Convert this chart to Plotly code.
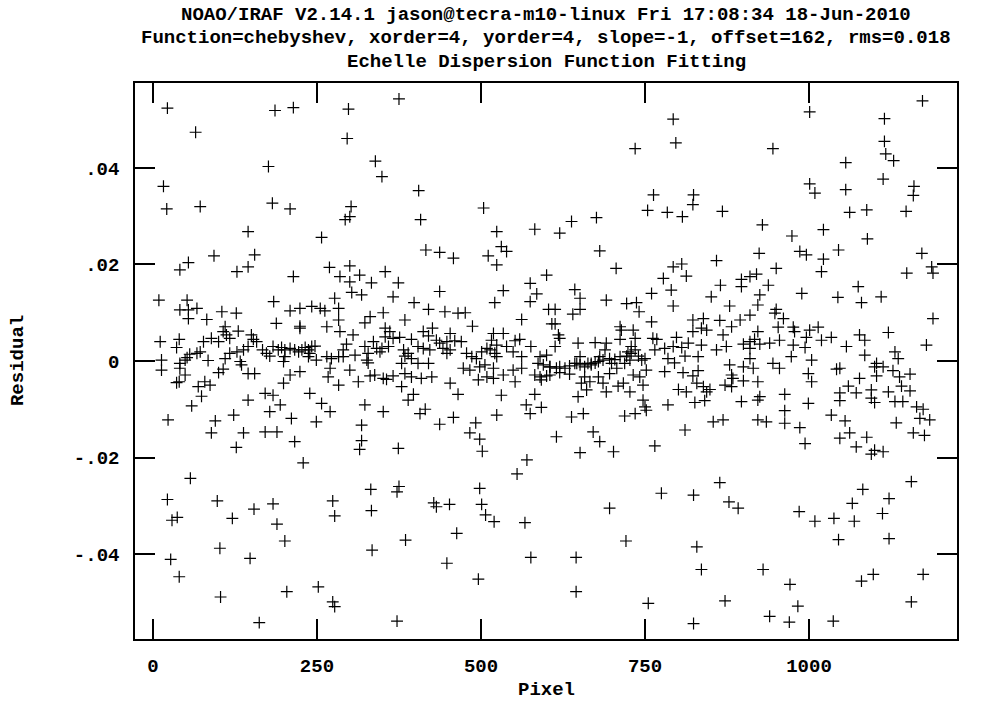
import plotly.graph_objects as go

title_lines = [
    "NOAO/IRAF V2.14.1 jason@tecra-m10-linux Fri 17:08:34 18-Jun-2010",
    "Function=chebyshev, xorder=4, yorder=4, slope=-1, offset=162, rms=0.018",
    "Echelle Dispersion Function Fitting",
]
x_title = "Pixel"
y_title = "Residual"
x_ticks = [0, 250, 500, 750, 1000]
x_tick_labels = ["0", "250", "500", "750", "1000"]
y_ticks = [0.04, 0.02, 0, -0.02, -0.04]
y_tick_labels = [".04", ".02", "0", "-.02", "-.04"]

# upper outliers
pixel_upper = [22, 186, 214, 65, 176, 16, 21, 72, 182, 209, 145, 257,
               375, 298, 296, 339, 349, 405, 302, 293, 300, 408, 504, 524, 582, 416, 437, 531, 539,
               793, 735, 797, 763, 824, 823, 754, 784, 807, 868, 676, 638, 620, 929, 681, 924,
               1173, 1001, 1115, 1115, 1117, 1129, 945, 1056, 1113, 1001, 1009, 1056, 1160, 1159,
               1062, 1088, 1148, 974, 1022, 1089, 986, 1045, 1172]
resid_upper = [0.0524, 0.0519, 0.0525, 0.0474, 0.0403, 0.0362, 0.0315, 0.0320, 0.0327, 0.0315, 0.0268, 0.0256,
               0.0543, 0.0522, 0.0461, 0.0414, 0.0382, 0.0353, 0.0320, 0.0293, 0.0299, 0.0293, 0.0317, 0.0268,
               0.0273, 0.0230, 0.0225, 0.0237, 0.0227,
               0.0501, 0.0440, 0.0452, 0.0344, 0.0344, 0.0324, 0.0312, 0.0308, 0.0299, 0.0310, 0.0297, 0.0289,
               0.0265, 0.0282, 0.0228, 0.0223,
               0.0539, 0.0516, 0.0502, 0.0455, 0.0429, 0.0415, 0.0440, 0.0411, 0.0377, 0.0367, 0.0348, 0.0355,
               0.0362, 0.0343, 0.0308, 0.0313, 0.0310, 0.0259, 0.0272, 0.0253, 0.0227, 0.0230, 0.0223]

# band, pixels 0-300
pixel_band1 = [93, 155, 54, 41, 128, 145, 214, 269, 285, 9, 52, 41, 54, 67, 54, 82, 105, 127, 184, 209,
               224, 242, 255, 262, 277, 283, 283, 188, 224, 224, 265, 285, 110, 107, 130, 112, 117, 89, 100, 77,
               11, 40, 36, 150, 153, 158, 145, 138, 128, 117, 72, 67, 56, 52, 49, 41, 84, 110, 13, 13,
               41, 49, 36, 40, 69, 79, 87, 74, 100, 107, 135, 133, 145, 155, 167, 173, 178, 183, 191, 196,
               201, 209, 216, 222, 227, 232, 237, 242, 247, 239, 201, 199, 209, 199, 224, 237, 249, 265, 272, 283,
               290, 270, 267, 283, 171, 183, 145, 239, 257, 270, 194, 178, 59, 23, 95, 123, 211, 249, 89, 138,
               171, 189, 216, 127]
resid_band1 = [0.0218, 0.0220, 0.0204, 0.0189, 0.0185, 0.0195, 0.0175, 0.0194, 0.0175, 0.0126, 0.0126, 0.0106,
               0.0106, 0.0109, 0.0088, 0.0086, 0.0102, 0.0099, 0.0123, 0.0104, 0.0109, 0.0113, 0.0109, 0.0104,
               0.0130, 0.0109, 0.0085, 0.0078, 0.0072, 0.0068, 0.0071, 0.0061, 0.0071, 0.0061, 0.0062, 0.0054,
               0.0047, 0.0047, 0.0040, 0.0040, 0.0040, 0.0045, 0.0028, 0.0054, 0.0045, 0.0040, 0.0030, 0.0023,
               0.0019, 0.0016, 0.0019, 0.0016, 0.0014, 0.0007, 0.0002, -0.0005, 0.0001, 0.0005, 0.0002, -0.0019,
               -0.0015, -0.0029, -0.0045, -0.0043, -0.0053, -0.0043, -0.0050, -0.0073, -0.0024, -0.0017, -0.0008,
               -0.0001, -0.0026, -0.0026, 0.0023, 0.0016, 0.0010, 0.0030, 0.0023, 0.0028, 0.0023, 0.0026, 0.0023,
               0.0019, 0.0023, 0.0028, 0.0023, 0.0030, 0.0031, 0.0016, 0.0009, -0.0001, -0.0029, -0.0046, -0.0022,
               0.0009, 0.0002, 0.0009, 0.0005, 0.0009, 0.0009, -0.0015, -0.0033, -0.0050, -0.0067, -0.0071,
               -0.0081, -0.0067, -0.0088, -0.0105, -0.0091, -0.0105, -0.0093, -0.0122, -0.0124, -0.0112, -0.0119,
               -0.0126, -0.0149, -0.0149, -0.0147, -0.0147, -0.0167, -0.0179]

# band, pixels 300-600
pixel_band2 = [458, 511, 524, 300, 315, 300, 354, 333, 374, 303, 318, 366, 437, 398, 420, 445, 465, 476, 351, 331,
               323, 384, 426, 487, 534, 521, 575, 585, 575, 600, 603, 562, 608, 305, 354, 361, 354, 366, 376, 394,
               412, 420, 432, 453, 448, 460, 470, 336, 295, 290, 323, 328, 341, 349, 359, 346, 308, 326, 328, 382,
               384, 389, 394, 379, 404, 412, 422, 420, 437, 442, 448, 453, 404, 300, 313, 331, 338, 351, 356, 366,
               379, 384, 394, 409, 425, 453, 465, 397, 389, 407, 415, 323, 351, 318, 318, 315, 374, 437, 458, 492,
               483, 498, 502, 524, 531, 569, 575, 592, 582, 519, 534, 552, 559, 516, 524, 539, 576, 514, 521, 549,
               562, 478, 486, 493, 501, 509, 524, 590, 600, 587, 595, 605, 473, 483, 498, 506, 519, 496, 509, 519,
               534, 549, 562, 552, 582, 590, 600, 605, 592]
resid_band2 = [0.0213, 0.0218, 0.0199, 0.0197, 0.0178, 0.0164, 0.0185, 0.0162, 0.0162, 0.0142, 0.0137, 0.0133,
               0.0144, 0.0121, 0.0107, 0.0102, 0.0099, 0.0100, 0.0100, 0.0092, 0.0079, 0.0085, 0.0068, 0.0072,
               0.0146, 0.0121, 0.0161, 0.0139, 0.0123, 0.0178, 0.0107, 0.0086, 0.0077, 0.0054, 0.0068, 0.0061,
               0.0050, 0.0047, 0.0049, 0.0045, 0.0061, 0.0052, 0.0043, 0.0057, 0.0040, 0.0042, 0.0040, 0.0040,
               0.0035, 0.0023, 0.0030, 0.0016, 0.0026, 0.0026, 0.0030, 0.0019, 0.0012, 0.0002, -0.0004, 0.0023,
               0.0010, 0.0016, 0.0005, -0.0005, 0.0030, 0.0026, 0.0023, -0.0005, 0.0037, 0.0026, 0.0016, 0.0023,
               -0.0005, -0.0019, -0.0043, -0.0031, -0.0029, -0.0036, -0.0038, -0.0031, -0.0053, -0.0026, -0.0033,
               -0.0036, -0.0033, -0.0046, -0.0069, -0.0069, -0.0081, -0.0109, -0.0100, -0.0091, -0.0105, -0.0133,
               -0.0165, -0.0183, -0.0181, -0.0131, -0.0117, -0.0128, -0.0149, -0.0162, -0.0187, -0.0112, -0.0071,
               -0.0091, -0.0109, -0.0096, -0.0069, 0.0057, 0.0057, 0.0042, 0.0045, 0.0043, 0.0033, 0.0030, 0.0030,
               0.0023, 0.0016, 0.0019, 0.0009, 0.0016, 0.0009, 0.0005, 0.0019, 0.0026, 0.0009, 0.0009, 0.0012,
               -0.0005, -0.0008, -0.0012, -0.0015, -0.0019, -0.0012, -0.0008, -0.0015, -0.0039, -0.0033, -0.0036,
               -0.0029, -0.0019, -0.0015, -0.0043, -0.0029, -0.0033, -0.0031, -0.0029, -0.0039]

# band, pixels 600-930
pixel_band3 = [706, 793, 806, 813, 778, 859, 897, 910, 920, 897, 865, 851, 790, 793, 760, 643, 651, 651, 691, 722,
               737, 741, 613, 640, 879, 925, 922, 910, 895, 864, 882, 760, 823, 839, 836, 844, 823, 613, 712, 714,
               732, 735, 729, 712, 618, 620, 613, 648, 674, 691, 689, 762, 768, 798, 816, 806, 836, 859, 869, 874,
               900, 910, 917, 922, 925, 910, 724, 735, 740, 750, 765, 780, 793, 811, 831, 785, 795, 780, 808, 823,
               831, 910, 900, 915, 879, 882, 884, 872, 882, 900, 922, 925, 922, 897, 829, 839, 849, 844, 801, 813,
               826, 841, 785, 747, 750, 752, 735, 719, 742, 747, 752, 732, 717, 709, 727, 696, 691, 686, 679, 666,
               658, 653, 661, 648, 656, 638, 615, 671, 681, 702, 651, 765, 811, 854, 869, 922,
               605, 615, 620, 628, 635, 643, 651, 658, 663, 668, 674, 679, 686, 696, 704, 712, 722, 729, 745, 620,
               635, 646, 651, 681, 699, 707, 719, 727, 668]
resid_band3 = [0.0192, 0.0195, 0.0201, 0.0176, 0.0171, 0.0208, 0.0169, 0.0175, 0.0180, 0.0154, 0.0157, 0.0133,
               0.0147, 0.0114, 0.0140, 0.0148, 0.0130, 0.0107, 0.0126, 0.0119, 0.0121, 0.0102, 0.0107, 0.0097,
               0.0114, 0.0137, 0.0116, 0.0095, 0.0085, 0.0084, 0.0071, 0.0081, 0.0085, 0.0088, 0.0068, 0.0064,
               0.0061, 0.0077, 0.0071, 0.0064, 0.0064, 0.0047, 0.0030, 0.0045, 0.0054, 0.0047, 0.0030, 0.0037,
               0.0038, 0.0037, 0.0023, 0.0047, 0.0045, 0.0049, 0.0037, 0.0028, 0.0033, 0.0023, 0.0054, 0.0030,
               0.0035, 0.0040, 0.0045, 0.0061, 0.0035, 0.0026, 0.0019, 0.0023, 0.0010, 0.0005, 0.0023, 0.0026,
               0.0030, 0.0010, 0.0009, 0.0005, -0.0004, -0.0022, -0.0024, -0.0031, -0.0020, 0.0005, -0.0012,
               -0.0015, -0.0008, -0.0029, -0.0036, -0.0050, -0.0053, -0.0041, -0.0043, -0.0074, -0.0081, -0.0084,
               -0.0046, -0.0053, -0.0059, -0.0064, -0.0059, -0.0064, -0.0086, -0.0082, -0.0091, -0.0081, -0.0095,
               -0.0102, -0.0109, -0.0114, -0.0033, -0.0050, -0.0019, -0.0029, -0.0046, -0.0052, -0.0064, -0.0026,
               -0.0064, -0.0046, -0.0033, -0.0043, -0.0033, -0.0046, -0.0060, -0.0074, -0.0109, -0.0116, -0.0157,
               -0.0147, -0.0167, -0.0188, -0.0190, -0.0176, -0.0143, -0.0126, -0.0122, -0.0122,
               -0.0012, -0.0015, -0.0012, -0.0015, -0.0010, -0.0005, -0.0008, -0.0012, -0.0005, -0.0008, -0.0004,
               -0.0001, 0.0002, 0.0005, 0.0003, 0.0009, 0.0010, 0.0016, 0.0002, -0.0024, -0.0027, -0.0005, 0.0009,
               0.0009, -0.0005, -0.0015, -0.0005, 0.0002, -0.0005]

# band, pixels 930-1200
pixel_band4 = [996, 1022, 1019, 1187, 1189, 1149, 950, 938, 989, 1044, 1075, 1080, 1110, 1189, 1121, 1179, 950, 948,
               961, 953, 976, 978, 1001, 1014, 996, 1019, 1034, 1077, 1085, 976, 994, 955, 940, 1057, 1085, 973,
               1004, 945, 955, 1042, 1047, 1103, 1100, 1113, 1103, 1131, 1136, 1128, 1138, 1154, 999, 1004, 1077,
               1060, 1072, 1047, 1047, 1095, 1095, 1100, 1121, 1141, 1154, 1131, 1143, 1164, 1174, 1169, 1184, 1133,
               1159, 1176, 963, 999, 963, 935, 963, 986, 1034, 1055, 1062, 1047, 1088, 1072, 994, 1100, 1113]
resid_band4 = [0.0220, 0.0211, 0.0185, 0.0195, 0.0182, 0.0182, 0.0192, 0.0157, 0.0140, 0.0132, 0.0154, 0.0121,
               0.0133, 0.0088, 0.0059, 0.0033, 0.0107, 0.0099, 0.0088, 0.0070, 0.0070, 0.0061, 0.0064, 0.0070,
               0.0049, 0.0043, 0.0049, 0.0054, 0.0043, 0.0033, 0.0028, 0.0043, 0.0037, 0.0030, 0.0012, 0.0009,
               0.0002, -0.0005, -0.0015, -0.0017, -0.0015, -0.0005, -0.0012, -0.0012, -0.0031, 0.0019, 0.0005,
               -0.0020, -0.0033, -0.0027, -0.0026, -0.0043, -0.0036, -0.0052, -0.0066, -0.0066, -0.0082, -0.0060,
               -0.0077, -0.0086, -0.0064, -0.0052, -0.0062, -0.0084, -0.0084, -0.0095, -0.0100, -0.0119, -0.0122,
               -0.0128, -0.0149, -0.0154, -0.0069, -0.0088, -0.0103, -0.0126, -0.0129, -0.0138, -0.0112, -0.0124,
               -0.0149, -0.0160, -0.0158, -0.0178, -0.0171, -0.0185, -0.0188]

# lower outliers
pixel_lower = [229, 57, 22, 98, 274, 154, 183, 29, 37, 121, 189, 277, 201, 102, 27, 148, 40, 103, 204, 252, 274,
               277, 162, 570, 555, 332, 375, 372, 498, 428, 432, 452, 501, 507, 520, 567, 333, 385, 463, 334, 448,
               576, 496, 372, 864, 775, 824, 878, 892, 696, 721, 829, 645, 836, 645, 755, 872, 824, 1095, 1156,
               1082, 1122, 1066, 1112, 985, 1009, 1038, 1069, 1045, 1122, 930, 1098, 1080, 1174, 971, 1156, 983,
               940, 970, 1037]
resid_lower = [-0.0211, -0.0243, -0.0287, -0.0290, -0.0290, -0.0307, -0.0296, -0.0330, -0.0324, -0.0326, -0.0338,
               -0.0321, -0.0373, -0.0388, -0.0411, -0.0409, -0.0447, -0.0489, -0.0478, -0.0468, -0.0499, -0.0509,
               -0.0542, -0.0205, -0.0234, -0.0266, -0.0260, -0.0271, -0.0264, -0.0294, -0.0302, -0.0297, -0.0297,
               -0.0319, -0.0333, -0.0335, -0.0310, -0.0371, -0.0357, -0.0392, -0.0419, -0.0407, -0.0452, -0.0539,
               -0.0252, -0.0274, -0.0278, -0.0292, -0.0305, -0.0305, -0.0373, -0.0385, -0.0407, -0.0432, -0.0478,
               -0.0502, -0.0497, -0.0544, -0.0193, -0.0250, -0.0266, -0.0285, -0.0295, -0.0316, -0.0312, -0.0332,
               -0.0326, -0.0332, -0.0370, -0.0368, -0.0432, -0.0442, -0.0456, -0.0442, -0.0463, -0.0499, -0.0508,
               -0.0529, -0.0541, -0.0539]

pixels = pixel_upper + pixel_band1 + pixel_band2 + pixel_band3 + pixel_band4 + pixel_lower
resids = resid_upper + resid_band1 + resid_band2 + resid_band3 + resid_band4 + resid_lower

FONT = "Liberation Mono"
fnt = dict(family=FONT, size=19, color="black", weight="bold")

fig = go.Figure()
fig.add_trace(go.Scatter(
    x=pixels, y=resids, mode="markers",
    marker=dict(symbol="cross-thin-open", size=8.5, color="black",
                line=dict(color="black", width=1.2)),
    showlegend=False, hoverinfo="x+y",
))

axis_common = dict(
    showline=True, linecolor="black", linewidth=1.5, mirror="ticks",
    ticks="inside", ticklen=20, tickwidth=2, tickcolor="black",
    showgrid=False, zeroline=False, tickfont=fnt,
)
fig.update_xaxes(range=[-27.4, 1225.6], tickvals=x_ticks, ticktext=x_tick_labels,
                 ticklabelstandoff=8, **axis_common)
fig.update_yaxes(range=[-0.0576, 0.0576], tickvals=y_ticks, ticktext=y_tick_labels,
                 ticklabelstandoff=10, **axis_common)

annotations = []
for txt, yp in zip(title_lines, [1.1223, 1.0809, 1.0378]):
    annotations.append(dict(text=txt, x=0.5, y=yp, xref="paper", yref="paper",
                            xanchor="center", yanchor="middle", showarrow=False, font=fnt))
annotations.append(dict(text=x_title, x=0.5, y=-0.0917, xref="paper", yref="paper",
                        xanchor="center", yanchor="middle", showarrow=False, font=fnt))
annotations.append(dict(text=y_title, x=-0.1423, y=0.5, xref="paper", yref="paper",
                        xanchor="center", yanchor="middle", showarrow=False, font=fnt,
                        textangle=-90))

fig.update_layout(
    width=981, height=707,
    margin=dict(l=135, r=24, t=83, b=68, pad=0),
    paper_bgcolor="white", plot_bgcolor="white",
    annotations=annotations,
)

fig.write_html("out.html")
